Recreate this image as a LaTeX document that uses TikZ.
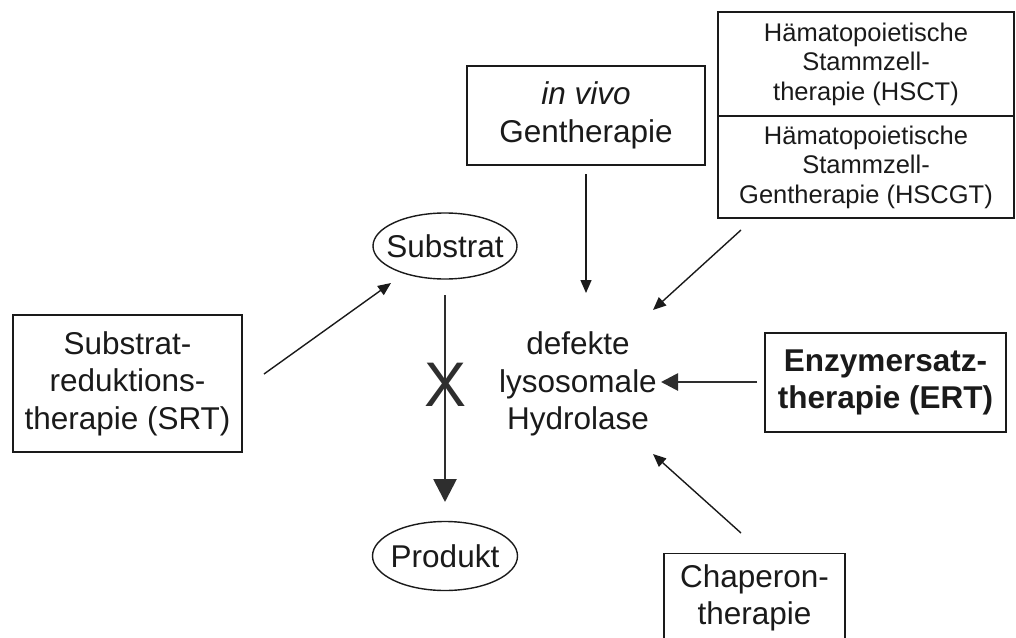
\documentclass[tikz,border=0pt]{standalone}
\usepackage{fontspec}
\setmainfont{Liberation Sans}
\usetikzlibrary{arrows.meta,shapes.geometric}
\definecolor{ink}{HTML}{1A1A1A}
\definecolor{darkink}{HTML}{2E2E2E}
\begin{document}
\begin{tikzpicture}[x=1pt,y=-1pt,
  every node/.style={text=ink},
  mainfont/.style={font=\fontsize{31.5}{37.5}\selectfont},
  box/.style={draw=ink, line width=1.4pt, align=center, inner sep=0pt, mainfont},
  smallbox/.style={draw=ink, line width=1.4pt, align=center, inner sep=0pt, font=\fontsize{25.5}{29.5}\selectfont},
  thinarrow/.style={draw=ink, line width=1.4pt, -{Triangle[length=13pt,width=11pt]}},
  thickarrow/.style={draw=darkink, line width=2.8pt, -{Triangle[length=17pt,width=17pt]}},
  bigarrow/.style={draw=darkink, line width=2.8pt, -{Triangle[length=23pt,width=23pt]}},
  oval/.style={draw=ink, line width=1.4pt}
]
\useasboundingbox (0,0) rectangle (1016,637);
\clip (0,0) rectangle (1016,637);

% boxes
\node[box, minimum width=229pt, minimum height=137pt] (srt) at (127.5,383.5)
  {Substrat-\\reduktions-\\therapie (SRT)};
\node[box, minimum width=238pt, minimum height=99pt] (invivo) at (586,115.5)
  {\itshape in vivo\\Gentherapie};
\node[smallbox, minimum width=296pt, minimum height=104pt] (hsct) at (866,64)
  {Hämatopoietische\\Stammzell-\\therapie (HSCT)};
\node[smallbox, minimum width=296pt, minimum height=102pt] (hscgt) at (866,167)
  {Hämatopoietische\\Stammzell-\\Gentherapie (HSCGT)};
\node[box, line width=2.8pt, minimum width=241pt, minimum height=99pt, font=\fontsize{31.5}{37}\selectfont\bfseries] (ert) at (885.5,382.5)
  {Enzymersatz-\\therapie (ERT)};
\node[box, minimum width=181pt, minimum height=100pt, anchor=north] (chap) at (754.5,553) {};
\node[mainfont, align=center, inner sep=0pt] (chaptext) at (754.5,598) {Chaperon-\\therapie};

% ovals
\node[mainfont, inner sep=0pt] (sub) at (445,246) {Substrat};
\draw[oval] (sub.center) ellipse [x radius=72pt, y radius=33pt];
\node[mainfont, inner sep=0pt] (prod) at (445,556) {Produkt};
\draw[oval] (prod.center) ellipse [x radius=72.5pt, y radius=34.5pt];

% enzyme
\node[mainfont, align=center, inner sep=0pt] (hyd) at (578,384)
  {defekte\\lysosomale\\Hydrolase};

% arrow anchor coordinates
\coordinate (srtA) at (264,374);
\coordinate (srtB) at (391,283);
\coordinate (ivA) at (586,174);
\coordinate (ivB) at (586,293);
\coordinate (hsA) at (741,230);
\coordinate (hsB) at (653,310);
\coordinate (ertA) at (757,382);
\coordinate (ertB) at (661,382);
\coordinate (chA) at (741,533);
\coordinate (chB) at (653,454);
\coordinate (subA) at (445,295);
\coordinate (subB) at (445,502);

\draw[thinarrow] (srtA) -- (srtB);
\draw[thinarrow] (ivA) -- (ivB);
\draw[thinarrow] (hsA) -- (hsB);
\draw[thinarrow] (chA) -- (chB);
\draw[thickarrow] (ertA) -- (ertB);
\draw[bigarrow] (subA) -- (subB);

% the X blocking the reaction
\node[inner sep=0pt, text=darkink, font=\fontsize{63}{63}\selectfont] (block) at (446,385) {X};
\end{tikzpicture}
\end{document}
